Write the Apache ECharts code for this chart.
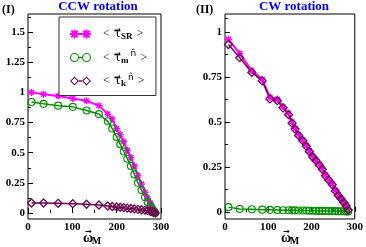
<!DOCTYPE html>
<html><head><meta charset="utf-8">
<script src="https://cdn.jsdelivr.net/npm/echarts@6/dist/echarts.min.js"></script>
<style>html,body{margin:0;padding:0;background:#fff}#c{width:366px;height:247px}</style>
</head><body><div id="c"></div>
<script>
// ---- data (panel I: CCW rotation) ----
const omegaCCW = [8, 35, 68, 101, 132, 160, 180, 190, 200, 208, 216, 224, 232, 240, 248, 256, 264, 270, 276, 280, 284, 287];
const tauSR_CCW = [1.0, 0.985, 0.97, 0.95, 0.93, 0.89, 0.82, 0.78, 0.70, 0.65, 0.59, 0.52, 0.46, 0.39, 0.31, 0.24, 0.17, 0.12, 0.08, 0.05, 0.02, 0.0];
const tauM_CCW = [0.92, 0.905, 0.89, 0.88, 0.85, 0.82, 0.76, 0.70, 0.63, 0.57, 0.51, 0.45, 0.39, 0.32, 0.25, 0.19, 0.13, 0.09, 0.06, 0.035, 0.015, 0.0];
const tauK_CCW = [0.083, 0.083, 0.08, 0.077, 0.072, 0.066, 0.058, 0.054, 0.05, 0.047, 0.044, 0.04, 0.037, 0.034, 0.03, 0.027, 0.023, 0.019, 0.014, 0.01, 0.006, 0.0];
// ---- data (panel II: CW rotation) ----
const omegaCW = [8, 34, 62, 86, 104, 121, 134, 147, 155, 162, 170, 180, 188, 195, 203, 210, 218, 225, 232, 240, 248, 255, 262, 268, 274, 280, 285];
const tauSR_CW = [0.96, 0.88, 0.785, 0.737, 0.637, 0.626, 0.585, 0.548, 0.50, 0.465, 0.43, 0.40, 0.37, 0.34, 0.31, 0.29, 0.265, 0.24, 0.205, 0.18, 0.155, 0.12, 0.095, 0.076, 0.056, 0.036, 0.012];
const tauM_CW = [0.026, 0.016, 0.014, 0.012, 0.011, 0.01, 0.009, 0.009, 0.008, 0.008, 0.007, 0.007, 0.007, 0.006, 0.006, 0.006, 0.005, 0.005, 0.005, 0.004, 0.004, 0.004, 0.003, 0.003, 0.003, 0.002, 0.002];
const tauK_CW = [0.93, 0.857, 0.775, 0.728, 0.628, 0.618, 0.578, 0.54, 0.493, 0.46, 0.425, 0.395, 0.365, 0.335, 0.305, 0.285, 0.26, 0.236, 0.2, 0.176, 0.151, 0.116, 0.091, 0.073, 0.053, 0.033, 0.01];
// ---- tick labels ----
const xTicks = [0, 100, 200, 300];
const yTicksI = [0, 0.25, 0.5, 0.75, 1, 1.25, 1.5];
const yMinorI = [0.125, 0.375, 0.625, 0.875, 1.125, 1.375, 1.625];
const yTicksII = [0, 0.25, 0.5, 0.75, 1];
const yMinorII = [0.125, 0.375, 0.625, 0.875, 1.075];

const C_SR = '#ff00ff', C_M = '#009100', C_K = '#6b0a4f';
const FONT = 'Liberation Serif';
const STAR = 'path://M-1,-5L1,-5L1,5L-1,5ZM-5,-1L5,-1L5,1L-5,1ZM-2.83,-4.24L4.24,2.83L2.83,4.24L-4.24,-2.83ZM-4.24,2.83L2.83,-4.24L4.24,-2.83L-2.83,4.24Z';

// legend icons: line with a marker at each end (21 x 9 box)
function ring(cx, cy, r, ri) {
  return 'M' + (cx - r) + ',' + cy + 'A' + r + ',' + r + ',0,1,0,' + (cx + r) + ',' + cy + 'A' + r + ',' + r + ',0,1,0,' + (cx - r) + ',' + cy + 'Z' +
         'M' + (cx - ri) + ',' + cy + 'A' + ri + ',' + ri + ',0,1,1,' + (cx + ri) + ',' + cy + 'A' + ri + ',' + ri + ',0,1,1,' + (cx - ri) + ',' + cy + 'Z';
}
function dia(cx, cy, r, ri) {
  return 'M' + cx + ',' + (cy - r) + 'L' + (cx + r) + ',' + cy + 'L' + cx + ',' + (cy + r) + 'L' + (cx - r) + ',' + cy + 'Z' +
         'M' + cx + ',' + (cy - ri) + 'L' + (cx - ri) + ',' + cy + 'L' + cx + ',' + (cy + ri) + 'L' + (cx + ri) + ',' + cy + 'Z';
}
function star(cx, cy, r, w) {
  const d = r * 0.7071, e = w * 0.7071;
  const p = pts => 'M' + pts.map(q => (cx + q[0]) + ',' + (cy + q[1])).join('L') + 'Z';
  return p([[-w, -r], [w, -r], [w, r], [-w, r]]) + p([[-r, -w], [r, -w], [r, w], [-r, w]]) +
         p([[-d + e, -d - e], [d + e, d - e], [d - e, d + e], [-d - e, -d + e]]) +
         p([[-d - e, d - e], [d - e, -d - e], [d + e, -d + e], [-d + e, d + e]]);
}
const ICON_SR = 'path://' + star(4.5, 4.5, 4.5, 1) + star(16.5, 4.5, 4.5, 1) + 'M4,3.6L17,3.6L17,5.4L4,5.4Z';
const ICON_M = 'path://' + ring(4.5, 4.5, 4.5, 3.4) + ring(16.5, 4.5, 4.5, 3.4) + 'M9,3.8L12,3.8L12,5.2L9,5.2Z';
const ICON_K = 'path://' + dia(4.5, 4.5, 4.5, 3.0) + dia(16.5, 4.5, 4.5, 3.0) + 'M9,3.8L12,3.8L12,5.2L9,5.2Z';

const pair = (xs, ys) => xs.map((x, i) => [x, ys[i]]);
const chart = echarts.init(document.getElementById('c'), null, {renderer: 'canvas'});

const grids = [
  {left: 28, top: 14, width: 133, height: 205, show: true, borderColor: '#000', borderWidth: 1, backgroundColor: 'transparent'},
  {left: 225, top: 14, width: 132, height: 205, show: true, borderColor: '#000', borderWidth: 1, backgroundColor: 'transparent'}
];
const lbl = {fontFamily: FONT, fontWeight: 'bold', fontSize: 11, color: '#000'};
function xAxis(g) {
  return {type: 'value', gridIndex: g, min: 0, max: 300, interval: 100,
    axisLine: {show: false}, splitLine: {show: false},
    axisTick: {inside: true, length: 5, lineStyle: {color: '#000'}},
    minorTick: {show: true, splitNumber: 2, length: 3, lineStyle: {color: '#000'}},
    axisLabel: Object.assign({margin: 3, customValues: xTicks}, lbl)};
}
function yAxisMain(g, min, max, ticks) {
  return {type: 'value', gridIndex: g, min: min, max: max,
    axisLine: {show: false}, splitLine: {show: false},
    axisTick: {inside: true, length: 5, customValues: ticks, lineStyle: {color: '#000'}},
    axisLabel: Object.assign({margin: 3, customValues: ticks, formatter: v => String(v)}, lbl)};
}
function yAxisMinor(g, min, max, ticks) {
  return {type: 'value', gridIndex: g, min: min, max: max, position: 'left',
    axisLine: {show: false}, splitLine: {show: false},
    axisTick: {inside: true, length: 3, customValues: ticks, lineStyle: {color: '#000'}},
    axisLabel: {show: false}};
}
function line(name, data, g, color, symbol, size, width, filled, bw) {
  return {name: name, type: 'line', xAxisIndex: g, yAxisIndex: g === 0 ? 0 : 2,
    data: data, symbol: symbol, symbolSize: size, showSymbol: true,
    lineStyle: {color: color, width: width},
    itemStyle: {color: filled ? color : 'rgba(0,0,0,0)', borderColor: color, borderWidth: filled ? 0 : bw},
    emphasis: {disabled: true}, animation: false, z: 2};
}

const legendText = {
  tauSR: '{lo|<}{t|τ⃗}{s|SR}{lc|>}',
  tauM: '{lo|<}{t|τ⃗}{s|m}{n|n̂}{lc|>}',
  tauK: '{lo|<}{t|τ⃗}{s|k}{n|n̂}{lc|>}'
};
const legendData = [
  {name: 'tauSR', icon: ICON_SR, itemStyle: {color: C_SR, borderWidth: 0}},
  {name: 'tauM', icon: ICON_M, itemStyle: {color: C_M, borderWidth: 0}},
  {name: 'tauK', icon: ICON_K, itemStyle: {color: C_K, borderWidth: 0}}
];

chart.setOption({
  animation: false,
  grid: grids,
  xAxis: [xAxis(0), xAxis(1)],
  yAxis: [yAxisMain(0, -0.05, 1.65, yTicksI), yAxisMinor(0, -0.05, 1.65, yMinorI),
          yAxisMain(1, -0.04, 1.1, yTicksII), yAxisMinor(1, -0.04, 1.1, yMinorII)],
  legend: {data: legendData, left: 59, top: 17, orient: 'vertical',
    padding: [11, 9, 7, 11], itemGap: 8, itemWidth: 21, itemHeight: 9,
    borderColor: '#333', borderWidth: 1, backgroundColor: '#fff', selectedMode: false,
    formatter: n => legendText[n],
    textStyle: {fontFamily: FONT, fontSize: 12, color: '#000',
      rich: {
        lo: {fontFamily: FONT, fontSize: 12, color: '#000', padding: [0, 4, 0, 7]},
        lc: {fontFamily: FONT, fontSize: 12, color: '#000', padding: [0, 0, 0, 4]},
        t: {fontFamily: 'DejaVu Sans', fontSize: 12, color: '#000', lineHeight: 15},
        s: {fontFamily: FONT, fontSize: 9, fontWeight: 'bold', color: '#000', padding: [6, 0, 0, 0]},
        n: {fontFamily: 'DejaVu Sans', fontSize: 9, color: '#000', padding: [0, 0, 7, 2]}
      }}},
  series: [
    line('tauSR', pair(omegaCCW, tauSR_CCW), 0, C_SR, STAR, 7, 2, true, 0),
    line('tauM', pair(omegaCCW, tauM_CCW), 0, C_M, 'circle', 7, 1.5, false, 1.1),
    line('tauK', pair(omegaCCW, tauK_CCW), 0, C_K, 'diamond', 8, 1.5, false, 1.3),
    line('tauSR', pair(omegaCW, tauSR_CW), 1, C_SR, STAR, 7, 2, true, 0),
    line('tauM', pair(omegaCW, tauM_CW), 1, C_M, 'circle', 7, 1.5, false, 1.1),
    line('tauK', pair(omegaCW, tauK_CW), 1, C_K, 'diamond', 8, 1.5, false, 1.3)
  ],
  graphic: [
    {type: 'text', left: 2, top: 4, style: {text: '(I)', font: 'bold 12px "Liberation Serif"', fill: '#000'}},
    {type: 'text', x: 98, y: 7, style: {text: 'CCW rotation', font: 'bold 13px "Liberation Serif"', fill: '#0000ff', align: 'center', verticalAlign: 'middle'}},
    {type: 'text', left: 196, top: 4, style: {text: '(II)', font: 'bold 12px "Liberation Serif"', fill: '#000'}},
    {type: 'text', x: 294, y: 7, style: {text: 'CW rotation', font: 'bold 13px "Liberation Serif"', fill: '#0000ff', align: 'center', verticalAlign: 'middle'}},
    // axis titles
    {type: 'text', x: 88, y: 238, style: {text: 'ω', font: 'bold 14px "Liberation Serif"', fill: '#000', align: 'center', verticalAlign: 'middle'}},
    {type: 'text', x: 88.5, y: 231.5, style: {text: '→', font: 'bold 8px "DejaVu Sans"', fill: '#000', align: 'center', verticalAlign: 'middle'}},
    {type: 'text', x: 96.5, y: 241.5, style: {text: 'M', font: 'bold 10px "Liberation Serif"', fill: '#000', align: 'center', verticalAlign: 'middle'}},
    {type: 'text', x: 286, y: 238, style: {text: 'ω', font: 'bold 14px "Liberation Serif"', fill: '#000', align: 'center', verticalAlign: 'middle'}},
    {type: 'text', x: 286.5, y: 231.5, style: {text: '→', font: 'bold 8px "DejaVu Sans"', fill: '#000', align: 'center', verticalAlign: 'middle'}},
    {type: 'text', x: 294.5, y: 241.5, style: {text: 'M', font: 'bold 10px "Liberation Serif"', fill: '#000', align: 'center', verticalAlign: 'middle'}}
  ]
});
</script></body></html>
